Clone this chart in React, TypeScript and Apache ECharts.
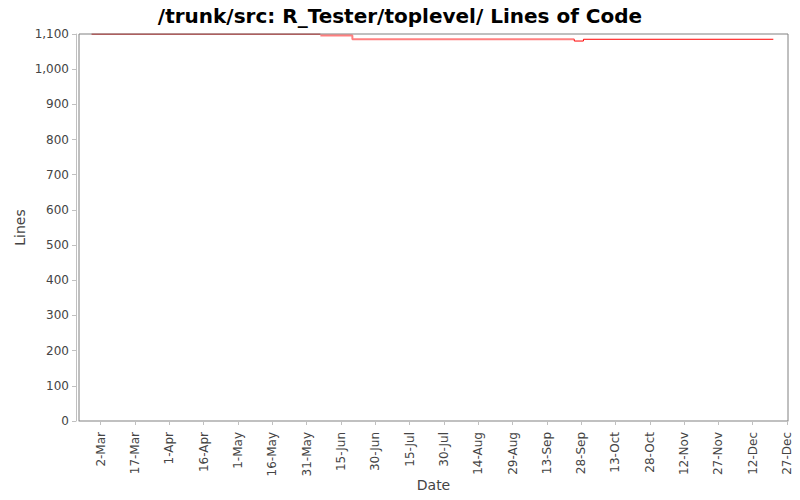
import React, { useEffect, useRef } from "react";
import * as echarts from "echarts";

// step segments of the LOC line, value holds until the next date
const darkDates = ["2007-02-26", "2007-06-06"];
const darkValues = [1100, 1100];

const paleDates = ["2007-06-06", "2007-06-20", "2007-09-25"];
const paleValues = [1096, 1085, 1085];

const redDates = ["2007-09-25", "2007-09-25", "2007-09-29", "2007-12-21"];
const redValues = [1085, 1080, 1085, 1085];

const tickDates = [
  "2007-03-02", "2007-03-17", "2007-04-01", "2007-04-16", "2007-05-01",
  "2007-05-16", "2007-05-31", "2007-06-15", "2007-06-30", "2007-07-15",
  "2007-07-30", "2007-08-14", "2007-08-29", "2007-09-13", "2007-09-28",
  "2007-10-13", "2007-10-28", "2007-11-12", "2007-11-27", "2007-12-12",
  "2007-12-27",
];

const MONTHS = ["Jan", "Feb", "Mar", "Apr", "May", "Jun", "Jul", "Aug", "Sep", "Oct", "Nov", "Dec"];

const ts = (s: string) => {
  const [y, m, d] = s.split("-").map(Number);
  return new Date(y, m - 1, d).getTime();
};

const pairs = (dates: string[], values: number[]) => dates.map((d, i) => [ts(d), values[i]]);

const FONT = "DejaVu Sans";
const TEXT = "#444444";
const AXIS = "#c0c0c0";

const App: React.FC = () => {
  const chartRef = useRef<HTMLDivElement>(null);

  useEffect(() => {
    const chart = echarts.init(chartRef.current!, null, { renderer: "svg" });
    const ticks = tickDates.map(ts);

    const option = {
      animation: false,
      backgroundColor: "#ffffff",
      textStyle: { fontFamily: FONT },
      title: {
        text: "/trunk/src: R_Tester/toplevel/ Lines of Code",
        left: "center",
        top: 1,
        textStyle: { fontFamily: FONT, fontSize: 20, fontWeight: "bold", color: "#000000" },
      },
      grid: {
        left: 79,
        right: 12,
        top: 34,
        bottom: 79,
        outerBoundsMode: "none",
        show: true,
        borderColor: "#808080",
        borderWidth: 1,
        backgroundColor: "#ffffff",
      },
      xAxis: {
        type: "value",
        min: ts("2007-02-20") + 12 * 3600 * 1000,
        max: ts("2007-12-27") + 10 * 3600 * 1000,
        offset: 3,
        name: "Date",
        nameLocation: "middle",
        nameGap: 54,
        nameMoveOverlap: false,
        nameTextStyle: { fontFamily: FONT, fontSize: 14, color: TEXT },
        axisLine: { show: true, lineStyle: { color: AXIS, width: 1 } },
        axisTick: { show: true, length: 4, customValues: ticks, lineStyle: { color: AXIS } },
        axisLabel: {
          customValues: ticks,
          rotate: 90,
          margin: 8,
          fontFamily: FONT,
          fontSize: 12,
          color: TEXT,
          formatter: (v: number) => {
            const d = new Date(v);
            return d.getDate() + "-" + MONTHS[d.getMonth()];
          },
        },
        splitLine: { show: false },
      },
      yAxis: {
        type: "value",
        min: 0,
        max: 1100,
        interval: 100,
        offset: 3,
        name: "Lines",
        nameLocation: "middle",
        nameGap: 49,
        nameMoveOverlap: false,
        nameTextStyle: { fontFamily: FONT, fontSize: 14, color: TEXT },
        axisLine: { show: true, lineStyle: { color: AXIS, width: 1 } },
        axisTick: { show: true, length: 4, lineStyle: { color: AXIS } },
        axisLabel: {
          margin: 7,
          fontFamily: FONT,
          fontSize: 12,
          color: TEXT,
          formatter: (v: number) => v.toLocaleString("en-US"),
        },
        splitLine: { show: false },
      },
      series: [
        {
          name: "LOC early",
          type: "line",
          step: "end",
          showSymbol: false,
          data: pairs(darkDates, darkValues),
          lineStyle: { color: "#9c0000", width: 1 },
          itemStyle: { color: "#9c0000" },
        },
        {
          name: "LOC mid",
          type: "line",
          step: "end",
          showSymbol: false,
          data: pairs(paleDates, paleValues),
          lineStyle: { color: "rgba(255,0,0,0.5)", width: 2 },
          itemStyle: { color: "rgba(255,0,0,0.5)" },
        },
        {
          name: "LOC late",
          type: "line",
          step: "end",
          showSymbol: false,
          data: pairs(redDates, redValues),
          lineStyle: { color: "#ff0000", width: 1 },
          itemStyle: { color: "#ff0000" },
        },
      ],
    };

    chart.setOption(option);

    return () => {
      chart.dispose();
    };
  }, []);

  return (
    <div
      ref={chartRef}
      style={{ position: "fixed", left: 0, top: 0, width: "800px", height: "500px" }}
    ></div>
  );
};

export default App;
